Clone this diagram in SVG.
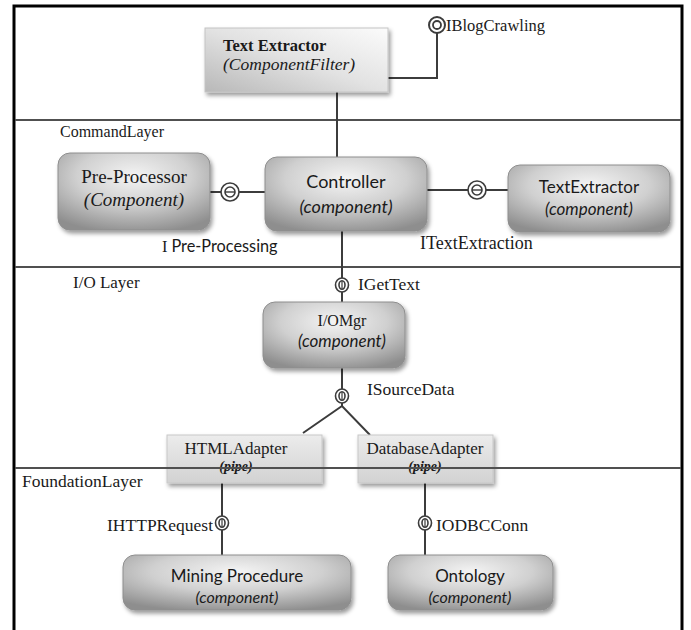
<svg xmlns="http://www.w3.org/2000/svg" width="691" height="630" viewBox="0 0 691 630">
  <style>
    .comp { stroke: #8e8e8e; stroke-width: 1; filter: url(#shadow); }
    .pipe { stroke: #c8c8c8; stroke-width: 1; filter: url(#shadow); }
    .wire { fill: none; stroke: #3c3c3c; stroke-width: 2; }
    .layer { fill: none; stroke: #505050; stroke-width: 2; }
    .ring { fill: #ffffff; stroke: #3c3c3c; stroke-width: 1.6; }
    .serif { font-family: "Liberation Serif", "Times New Roman", serif; fill: #1a1a1a; }
    .sans { font-family: Lato, "Liberation Sans", sans-serif; fill: #1a1a1a; }
    .it { font-style: italic; }
  </style>
  <defs>
    <radialGradient id="compFill" cx="0.5" cy="0.3" r="0.75">
      <stop offset="0" stop-color="#f4f4f4"/>
      <stop offset="0.5" stop-color="#d0d0d0"/>
      <stop offset="1" stop-color="#8e8e8e"/>
    </radialGradient>
    <linearGradient id="filterFill" x1="1" y1="0" x2="0" y2="1">
      <stop offset="0" stop-color="#fbfbfb"/>
      <stop offset="0.5" stop-color="#e2e2e2"/>
      <stop offset="1" stop-color="#b8b8b8"/>
    </linearGradient>
    <linearGradient id="pipeFill" x1="0" y1="0" x2="0" y2="1">
      <stop offset="0" stop-color="#ececec"/>
      <stop offset="1" stop-color="#d2d2d2"/>
    </linearGradient>
    <filter id="shadow" x="-10%" y="-10%" width="125%" height="135%">
      <feDropShadow dx="2" dy="3" stdDeviation="2" flood-color="#000000" flood-opacity="0.4"/>
    </filter>
    <!-- provided-interface ball, large -->
    <g id="ballLarge">
      <circle class="ring" r="9"/>
      <circle class="ring" r="5"/>
      <line x1="-5" y1="0" x2="5" y2="0" stroke="#3c3c3c" stroke-width="1.4"/>
    </g>
    <!-- provided-interface ball, small -->
    <g id="ballSmall">
      <ellipse class="ring" rx="6.5" ry="7"/>
      <ellipse class="ring" rx="3" ry="4.2" stroke-width="1.2"/>
      <line x1="0" y1="-4" x2="0" y2="4" stroke="#3c3c3c" stroke-width="1.2"/>
    </g>
  </defs>

  <rect width="691" height="630" fill="#ffffff"/>

  <!-- outer frame -->
  <path d="M14,632 V6 H682 V632" fill="none" stroke="#000000" stroke-width="3"/>

  <!-- layer separators -->
  <g id="layers">
    <line class="layer" x1="15" y1="120" x2="681" y2="120"/>
    <line class="layer" x1="15" y1="267" x2="681" y2="267"/>
    <text class="serif" x="60" y="137" font-size="16">CommandLayer</text>
    <text class="serif" x="73" y="288" font-size="17">I/O Layer</text>
    <text class="serif" x="22" y="487" font-size="17.5">FoundationLayer</text>
  </g>

  <!-- connectors -->
  <g id="connectors">
    <line class="wire" x1="337" y1="92" x2="337" y2="157"/>
    <polyline class="wire" points="388,78 437,78 437,33"/>
    <line class="wire" x1="210" y1="192" x2="265" y2="192"/>
    <line class="wire" x1="427" y1="190" x2="508" y2="190"/>
    <line class="wire" x1="342" y1="231" x2="342" y2="302"/>
    <line class="wire" x1="342" y1="368" x2="342" y2="406"/>
    <polyline class="wire" points="303,433 342,406 370,435"/>
    <line class="wire" x1="222" y1="483" x2="222" y2="555"/>
    <line class="wire" x1="425" y1="483" x2="425" y2="555"/>
  </g>

  <!-- interfaces -->
  <g id="iBlogCrawling">
    <circle cx="437" cy="25" r="8" fill="#ffffff" stroke="#3c3c3c" stroke-width="2"/>
    <circle cx="437" cy="25" r="4" fill="#ffffff" stroke="#3c3c3c" stroke-width="1.8"/>
    <text class="serif" x="446" y="31" font-size="16.5">IBlogCrawling</text>
  </g>
  <g id="iPreProcessing">
    <use href="#ballLarge" x="230" y="192"/>
    <text x="162" y="252" font-size="16.3"><tspan class="serif">I </tspan><tspan class="sans">Pre-Processing</tspan></text>
  </g>
  <g id="iTextExtraction">
    <use href="#ballLarge" x="477" y="190"/>
    <text class="serif" x="420" y="249" font-size="18">ITextExtraction</text>
  </g>
  <g id="iGetText">
    <use href="#ballSmall" x="342" y="285"/>
    <text class="serif" x="358" y="290" font-size="17.5">IGetText</text>
  </g>
  <g id="iSourceData">
    <use href="#ballSmall" x="342" y="396"/>
    <text class="serif" x="367" y="395" font-size="17.5">ISourceData</text>
  </g>
  <g id="iHTTPRequest">
    <use href="#ballSmall" x="222" y="523"/>
    <text class="serif" x="213" y="531" font-size="17.5" text-anchor="end">IHTTPRequest</text>
  </g>
  <g id="iODBCConn">
    <use href="#ballSmall" x="425" y="523"/>
    <text class="serif" x="436" y="531" font-size="17.5">IODBCConn</text>
  </g>

  <!-- nodes -->
  <g id="textExtractorFilter">
    <rect x="205" y="28" width="183" height="64" fill="url(#filterFill)" stroke="#c4c4c4" filter="url(#shadow)"/>
    <text class="serif" x="223" y="51" font-size="16.5" font-weight="bold">Text Extractor</text>
    <text class="serif it" x="223" y="70" font-size="17.5">(ComponentFilter)</text>
  </g>

  <g id="preProcessor">
    <rect class="comp" x="58" y="153" width="152" height="77" rx="12" fill="url(#compFill)"/>
    <text class="serif" x="134" y="183" font-size="19" text-anchor="middle">Pre-Processor</text>
    <text class="serif it" x="134" y="206" font-size="19" text-anchor="middle">(Component)</text>
  </g>

  <g id="controller">
    <rect class="comp" x="265" y="157" width="162" height="74" rx="12" fill="url(#compFill)"/>
    <text class="sans" x="346" y="188" font-size="18" text-anchor="middle">Controller</text>
    <text class="sans it" x="346" y="213" font-size="18" text-anchor="middle">(component)</text>
  </g>

  <g id="textExtractor">
    <rect class="comp" x="508" y="165" width="162" height="67" rx="12" fill="url(#compFill)"/>
    <text class="sans" x="589" y="193" font-size="17" text-anchor="middle">TextExtractor</text>
    <text class="sans it" x="589" y="215" font-size="17" text-anchor="middle">(component)</text>
  </g>

  <g id="ioMgr">
    <rect class="comp" x="263" y="302" width="142" height="66" rx="12" fill="url(#compFill)"/>
    <text class="serif" x="342" y="326" font-size="16" text-anchor="middle">I/OMgr</text>
    <text class="sans it" x="342" y="347" font-size="17" text-anchor="middle">(component)</text>
  </g>

  <g id="htmlAdapter">
    <rect class="pipe" x="167" y="435" width="155" height="48" fill="url(#pipeFill)"/>
    <text class="serif" x="236" y="454" font-size="17" text-anchor="middle">HTMLAdapter</text>
    <text class="serif it" x="236" y="471" font-size="14" font-weight="bold" text-anchor="middle" fill="#555555">(pipe)</text>
  </g>

  <g id="databaseAdapter">
    <rect class="pipe" x="358" y="435" width="135" height="48" fill="url(#pipeFill)"/>
    <text class="serif" x="425" y="454" font-size="17" text-anchor="middle">DatabaseAdapter</text>
    <text class="serif it" x="425" y="471" font-size="14" font-weight="bold" text-anchor="middle" fill="#555555">(pipe)</text>
  </g>

  <!-- foundation line runs across the pipe boxes -->
  <line class="layer" x1="15" y1="468" x2="681" y2="468"/>

  <g id="miningProcedure">
    <rect class="comp" x="123" y="555" width="228" height="55" rx="12" fill="url(#compFill)"/>
    <text class="sans" x="237" y="582" font-size="17" text-anchor="middle">Mining Procedure</text>
    <text class="sans it" x="237" y="603" font-size="16" text-anchor="middle">(component)</text>
  </g>

  <g id="ontology">
    <rect class="comp" x="388" y="555" width="165" height="55" rx="12" fill="url(#compFill)"/>
    <text class="sans" x="470" y="582" font-size="17" text-anchor="middle">Ontology</text>
    <text class="sans it" x="470" y="603" font-size="16" text-anchor="middle">(component)</text>
  </g>
</svg>
